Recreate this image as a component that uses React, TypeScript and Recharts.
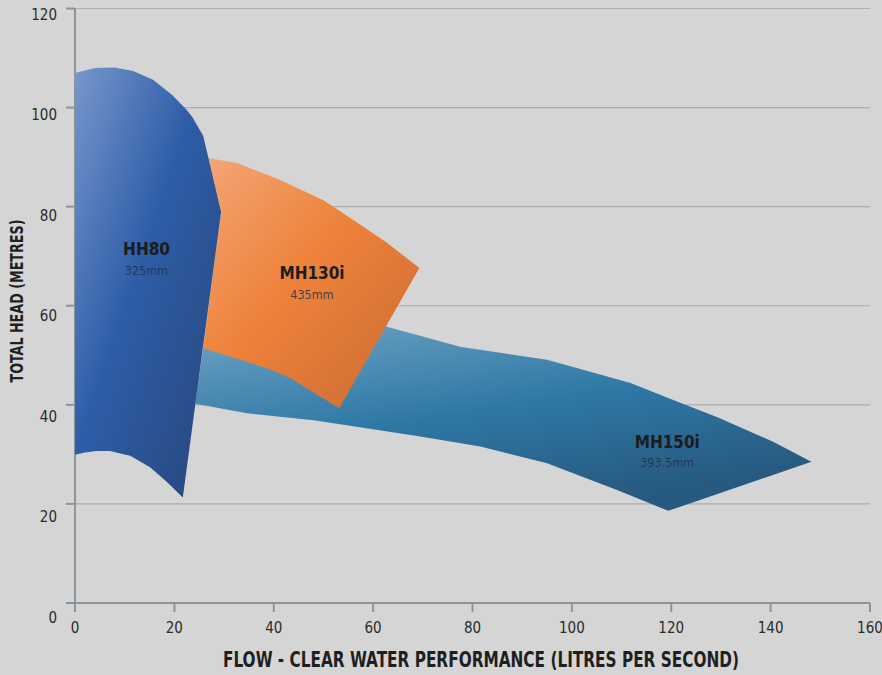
import React from 'react';
import {
    ComposedChart,
    Scatter,
    XAxis,
    YAxis,
    ReferenceLine,
    Label,
} from 'recharts';

// polygon outlines, [flow l/s, head m]
const HH80: [number, number][] = [
    [0, 107.0], [4.0, 108.0], [8.0, 108.1], [11.7, 107.4], [15.7, 105.6],
    [19.5, 102.6], [22.5, 99.5], [23.6, 98.1], [25.8, 94.3], [29.4, 78.9],
    [21.7, 21.3], [18.5, 24.4], [15.1, 27.4], [11.1, 29.7], [7.0, 30.7],
    [4.4, 30.7], [2.0, 30.4], [0, 29.9],
];

const MH130I: [number, number][] = [
    [26.8, 89.8], [32.6, 88.8], [41.3, 85.4], [50.0, 81.3], [56.0, 77.3],
    [62.8, 72.7], [69.3, 67.6], [53.2, 39.3], [46.7, 43.3], [43.3, 45.4],
    [38.6, 47.4], [33.2, 49.1], [25.8, 51.4], [29.4, 78.9],
];

const MH150I: [number, number][] = [
    [25.8, 51.4], [62.6, 55.8], [77.5, 51.7], [95.0, 49.1], [111.8, 44.4],
    [121.8, 40.4], [129.3, 37.5], [140.6, 32.5], [148.2, 28.5], [119.4, 18.6],
    [109.1, 22.8], [95.0, 28.2], [81.6, 31.6], [69.5, 33.6], [54.7, 35.9],
    [48.0, 36.9], [34.6, 38.3], [24.2, 40.2],
];

const LABELS = [
    { x: 14.4, y: 71.4, name: 'HH80', size: '325mm' },
    { x: 47.7, y: 66.6, name: 'MH130i', size: '435mm' },
    { x: 119.2, y: 32.5, name: 'MH150i', size: '393.5mm' },
];

const X_TICKS = [0, 20, 40, 60, 80, 100, 120, 140, 160];
const Y_TICKS = [0, 20, 40, 60, 80, 100, 120];
const GRID_Y = [20, 40, 60, 80, 100, 120];

const FONT = "'Liberation Sans Narrow', 'DejaVu Sans Condensed', 'Roboto', sans-serif";
const BG = '#d4d5d4';
const AXIS = '#8b949b';

const toPoints = (pts: [number, number][]) => pts.map(([x, y]) => ({ x, y }));

const polygon = (fill: string) => (props: any) => (
    <polygon
        points={(props.points || []).map((p: any) => `${p.x},${p.y}`).join(' ')}
        fill={fill}
        stroke="none"
    />
);

const YTick = (props: any) => {
    const { x, y, payload } = props;
    // labels sit a little below their tick marks in the original
    const shift = 15 - payload.value * 0.075;
    return (
        <text x={x - 7} y={y + shift} textAnchor="end" dominantBaseline="central"
            fontFamily={FONT} fontSize={15} fill="#2b2b2b">
            {payload.value}
        </text>
    );
};

const XTick = (props: any) => {
    const { x, y, payload } = props;
    return (
        <text x={x} y={y + 14} textAnchor="middle" dominantBaseline="central"
            fontFamily={FONT} fontSize={15} fill="#2b2b2b">
            {payload.value}
        </text>
    );
};

const ModelLabel = (props: any) => {
    const { cx, cy, payload } = props;
    return (
        <g>
            <text x={cx} y={cy} textAnchor="middle" dominantBaseline="central"
                fontFamily={FONT} fontWeight="bold" fontSize={17} fill="#1c1c1c">
                {payload.name}
            </text>
            <text x={cx} y={cy + 21} textAnchor="middle" dominantBaseline="central"
                fontFamily={FONT} fontSize={12.5} fill="#26304a" fillOpacity={0.85}>
                {payload.size}
            </text>
        </g>
    );
};

export default function App() {
    return (
        <div style={{ position: 'absolute', left: 0, top: 0, width: 882, height: 675, background: BG }}>
            <ComposedChart
                width={882}
                height={675}
                margin={{ top: 8.5, right: 12, bottom: 0, left: 0 }}
            >
                <defs>
                    <linearGradient id="gHH80" x1="0" y1="0" x2="1" y2="1">
                        <stop offset="0%" stopColor="#7797cd" />
                        <stop offset="45%" stopColor="#2e5da7" />
                        <stop offset="100%" stopColor="#27457a" />
                    </linearGradient>
                    <linearGradient id="gMH130" x1="0" y1="0" x2="1" y2="1">
                        <stop offset="0%" stopColor="#f3a677" />
                        <stop offset="45%" stopColor="#ee823a" />
                        <stop offset="100%" stopColor="#c96a33" />
                    </linearGradient>
                    <linearGradient id="gMH150" x1="0" y1="0" x2="0.5" y2="1">
                        <stop offset="0%" stopColor="#6fa3c3" />
                        <stop offset="55%" stopColor="#2e78a5" />
                        <stop offset="100%" stopColor="#275a80" />
                    </linearGradient>
                </defs>
                <XAxis
                    type="number"
                    dataKey="x"
                    domain={[0, 160]}
                    ticks={X_TICKS}
                    height={72}
                    stroke={AXIS}
                    strokeWidth={2}
                    tickSize={9}
                    tick={<XTick />}
                    interval={0}
                >
                    <Label
                        content={() => (
                            <text x={481} y={660} textAnchor="middle" dominantBaseline="central"
                                fontFamily={FONT} fontWeight="bold" fontSize={21} fill="#1f1f1f"
                                textLength={516} lengthAdjust="spacingAndGlyphs">
                                FLOW - CLEAR WATER PERFORMANCE (LITRES PER SECOND)
                            </text>
                        )}
                    />
                </XAxis>
                <YAxis
                    type="number"
                    dataKey="y"
                    domain={[0, 120]}
                    ticks={Y_TICKS}
                    width={75}
                    stroke={AXIS}
                    strokeWidth={2}
                    tickSize={9}
                    tick={<YTick />}
                    interval={0}
                >
                    <Label
                        content={() => (
                            <text x={16} y={301} textAnchor="middle" dominantBaseline="central"
                                transform="rotate(-90 16 301)"
                                fontFamily={FONT} fontWeight="bold" fontSize={18} fill="#1f1f1f"
                                textLength={163} lengthAdjust="spacingAndGlyphs">
                                TOTAL HEAD  (METRES)
                            </text>
                        )}
                    />
                </YAxis>
                <Scatter data={toPoints(MH150I)} line={polygon('url(#gMH150)')} lineType="joint"
                    shape={() => <g />} isAnimationActive={false} />
                <Scatter data={toPoints(MH130I)} line={polygon('url(#gMH130)')} lineType="joint"
                    shape={() => <g />} isAnimationActive={false} />
                <Scatter data={toPoints(HH80)} line={polygon('url(#gHH80)')} lineType="joint"
                    shape={() => <g />} isAnimationActive={false} />
                {GRID_Y.map((v) => (
                    <ReferenceLine key={v} y={v} stroke="#5c6274" strokeOpacity={0.33} strokeWidth={1.2} />
                ))}
                <Scatter data={LABELS} shape={<ModelLabel />} isAnimationActive={false} />
            </ComposedChart>
        </div>
    );
}
